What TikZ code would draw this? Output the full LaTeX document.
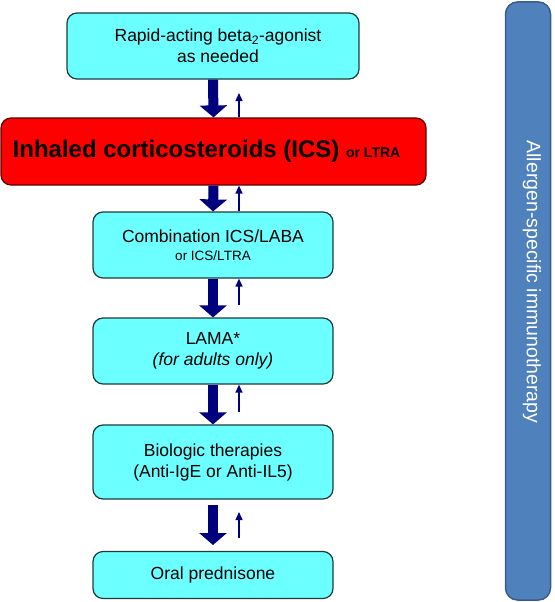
\documentclass[tikz,border=0pt]{standalone}
\usepackage{fontspec}
\setmainfont{Liberation Sans}
\usetikzlibrary{arrows.meta}
\definecolor{boxcyan}{HTML}{6CFFFF}
\definecolor{boxedge}{HTML}{1E3B3B}
\definecolor{redfill}{HTML}{FF0000}
\definecolor{rededge}{HTML}{5A0000}
\definecolor{arrblue}{HTML}{00007F}
\definecolor{barblue}{HTML}{4F81BD}
\definecolor{baredge}{HTML}{385D8A}
\begin{document}
\begin{tikzpicture}[x=1pt,y=-1pt,
  stepbox/.style={draw=boxedge, fill=boxcyan, rounded corners=10pt, line width=1.2pt,
    align=center, inner sep=0pt, font=\fontsize{17.5}{21}\selectfont},
  redbox/.style={draw=rededge, fill=redfill, rounded corners=10pt, line width=1.2pt,
    align=center, inner sep=0pt},
  barbox/.style={draw=baredge, fill=barblue, rounded corners=12pt, line width=1.5pt,
    inner sep=0pt},
  bigarrow/.style={draw=arrblue, line width=10pt, -{Triangle[width=27pt,length=12pt]}},
  smallarrow/.style={draw=arrblue, line width=1.4pt, -{Triangle[width=7pt,length=8pt]}}
]
\useasboundingbox (0,0) rectangle (554,602);

\node[stepbox, minimum width=292pt, minimum height=66pt] (top) at (213,46)
  {\hspace*{10pt}Rapid-acting beta\textsubscript{2}-agonist\\\hspace*{10pt}as needed};
\node[redbox, minimum width=425pt, minimum height=67pt] (ics) at (213.5,151.5)
  {\fontsize{24}{27}\selectfont\bfseries Inhaled corticosteroids (ICS) {\fontsize{14}{16}\selectfont or LTRA}\hspace*{14pt}};
\node[stepbox, minimum width=240pt, minimum height=66pt] (comb) at (213,245)
  {Combination ICS/LABA\\[-3pt]{\fontsize{13.5}{15}\selectfont or ICS/LTRA}};
\node[stepbox, minimum width=240pt, minimum height=66pt] (lama) at (213,351)
  {LAMA*\\\textit{(for adults only)}};
\node[stepbox, minimum width=240pt, minimum height=74pt] (bio) at (213,462)
  {Biologic therapies\\(Anti-IgE or Anti-IL5)};
\node[stepbox, minimum width=240pt, minimum height=47pt] (oral) at (213,575)
  {Oral prednisone};
\node[barbox, minimum width=45pt, minimum height=598pt] (bar) at (528,301) {};
\node[rotate=-90, text=white, font=\fontsize{19.5}{22}\selectfont] (bartext) at (532,282)
  {Allergen-specific immunotherapy};

% thick downward arrows
\draw[bigarrow] (top.south) -- (ics.north);
\draw[bigarrow] (ics.south) -- (comb.north);
\draw[bigarrow] (comb.south) -- (lama.north);
\draw[bigarrow] (lama.south) -- (bio.north);
\coordinate (b5s) at (213,505);
\coordinate (b5e) at (213,545);
\draw[bigarrow] (b5s) -- (b5e);

% thin upward arrows
\coordinate (t1) at (239,93);
\draw[smallarrow] (ics.north -| t1) -- (t1);
\draw[smallarrow] (comb.north -| t1) -- (ics.south -| t1);
\coordinate (t3) at (239,305);
\draw[smallarrow] (t3) -- (comb.south -| t3);
\coordinate (t4) at (239,412);
\draw[smallarrow] (t4) -- (lama.south -| t4);
\coordinate (t5s) at (239,538);
\coordinate (t5e) at (239,512);
\draw[smallarrow] (t5s) -- (t5e);
\end{tikzpicture}
\end{document}
